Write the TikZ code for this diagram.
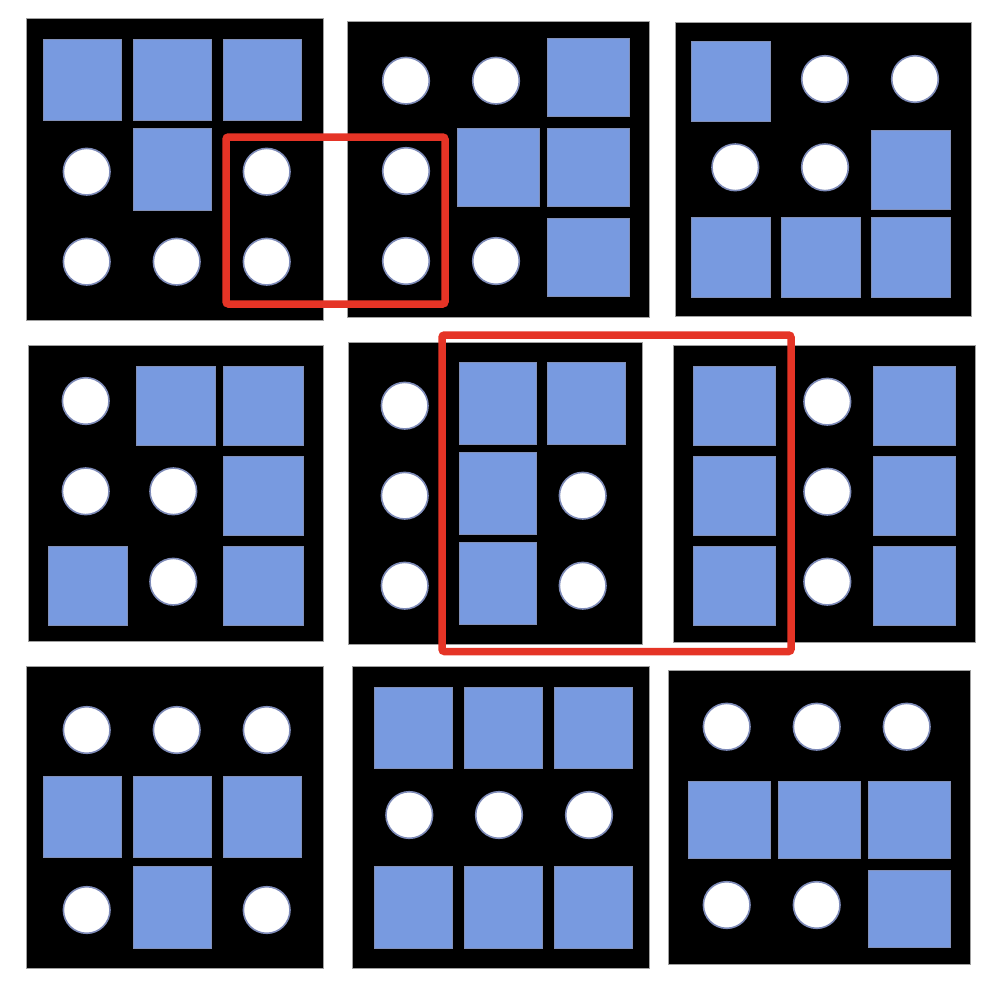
\documentclass[tikz,border=0pt]{standalone}
\usepackage{tikz}
\definecolor{sqblue}{HTML}{789AE0}
\definecolor{sqedge}{HTML}{8290B8}
\definecolor{dotedge}{HTML}{7E8BB8}
\definecolor{redc}{HTML}{E53426}
\definecolor{paneledge}{HTML}{A0A0A0}
\tikzset{
  panel/.style={fill=black, draw=paneledge, line width=0.8pt},
  sqbox/.style={fill=sqblue, draw=sqedge, line width=1pt},
  dotc/.style={fill=white, draw=dotedge, line width=1.6pt},
  redbox/.style={draw=redc, line width=7.5pt, rounded corners=2.5pt}
}
\newcommand{\sqr}[4]{\path[sqbox] (#1,#2) rectangle (#3,#4);}
\newcommand{\dt}[2]{\path[dotc] (#1,#2) circle (23.3pt);}
\newcommand{\pnl}[4]{\path[panel] (#1,#2) rectangle (#3,#4);}
\begin{document}
\begin{tikzpicture}[x=1pt,y=-1pt]
\useasboundingbox (0,0) rectangle (992,994);
% Panel A
\pnl{26}{18.5}{323}{320}
\sqr{43.3}{39}{121.7}{120}
\sqr{133.3}{39}{211.7}{120}
\sqr{223.3}{39}{301.7}{120}
\sqr{133.3}{128.3}{211.7}{210}
\dt{86.7}{171.7}\dt{266.7}{171.7}
\dt{86.7}{261.7}\dt{176.7}{261.7}\dt{266.7}{261.7}
% Panel B
\pnl{347.5}{21}{649}{317.5}
\dt{406}{80.7}\dt{496}{80.7}\dt{406}{171}\dt{406}{261}\dt{496}{261}
\sqr{547.7}{38.3}{629.3}{116}
\sqr{457.7}{128.3}{539.3}{206}
\sqr{547.7}{128.3}{629.3}{206}
\sqr{547.7}{218.3}{629.3}{296}
% Panel C
\pnl{675}{22.3}{971.7}{316.7}
\sqr{691.7}{41.7}{770.3}{121}
\sqr{871.7}{130}{950.3}{209}
\sqr{691.7}{217.3}{770.3}{297}
\sqr{781.7}{217.3}{860.3}{297}
\sqr{871.7}{217.3}{950.3}{297}
\dt{825}{79}\dt{915}{79}\dt{735.3}{167.3}\dt{825}{167.3}
% Panel D
\pnl{28.3}{345}{323.3}{641.7}
\dt{85.7}{401}\dt{85.7}{491.3}\dt{173.3}{491.3}\dt{173.3}{581.7}
\sqr{136}{366.7}{215.7}{445}
\sqr{223.7}{366.7}{303.7}{445}
\sqr{223.7}{456.7}{303.7}{535}
\sqr{48}{546.7}{127.7}{625}
\sqr{223.7}{546.7}{303.7}{625}
% Panel E
\pnl{348.3}{342.7}{642.3}{644}
\dt{404.7}{405.7}\dt{404.7}{495.7}\dt{404.7}{585.7}
\dt{582.7}{495.7}\dt{582.7}{585.7}
\sqr{459}{362.7}{536.7}{444}
\sqr{547.7}{362.7}{625.7}{444}
\sqr{459}{452.7}{536.7}{534.3}
\sqr{459}{542.7}{536.7}{624}
% Panel F
\pnl{673.3}{345}{975}{642.3}
\sqr{693.3}{366}{775.7}{445}
\sqr{693.3}{456}{775.7}{535}
\sqr{693.3}{546}{775.7}{625.3}
\sqr{873.3}{366}{955.7}{445}
\sqr{873.3}{456}{955.7}{535}
\sqr{873.3}{546}{955.7}{625.3}
\dt{827.3}{401.7}\dt{827.3}{491.7}\dt{827.3}{581.7}
% Panel G
\pnl{26}{666.7}{323.3}{968.3}
\dt{86.7}{730}\dt{176.7}{730}\dt{266.7}{730}\dt{86.7}{910}\dt{266.7}{910}
\sqr{43.3}{776.7}{121.7}{857.7}
\sqr{133.3}{776.7}{211.7}{857.7}
\sqr{223.3}{776.7}{301.7}{857.7}
\sqr{133.3}{866.7}{211.7}{948.3}
% Panel H
\pnl{352.3}{666.7}{649.3}{968.3}
\sqr{374}{687}{452.3}{768.3}
\sqr{464}{687}{542.3}{768.3}
\sqr{554}{687}{632.3}{768.3}
\sqr{374}{866.7}{452.3}{948.3}
\sqr{464}{866.7}{542.3}{948.3}
\sqr{554}{866.7}{632.3}{948.3}
\dt{409.3}{815}\dt{499}{815}\dt{589}{815}
% Panel I
\pnl{668.3}{670.7}{970}{964.3}
\dt{726.7}{726.7}\dt{816.7}{726.7}\dt{906.7}{726.7}
\dt{726.7}{905}\dt{816.7}{905}
\sqr{688.7}{781}{770}{858.3}
\sqr{778.7}{781}{860}{858.3}
\sqr{868.7}{781}{950}{858.3}
\sqr{868.7}{870}{950}{947.7}
% Red highlight boxes
\draw[redbox] (226,137) rectangle (445,304);
\draw[redbox] (442,335) rectangle (791,651.5);
\end{tikzpicture}
\end{document}
